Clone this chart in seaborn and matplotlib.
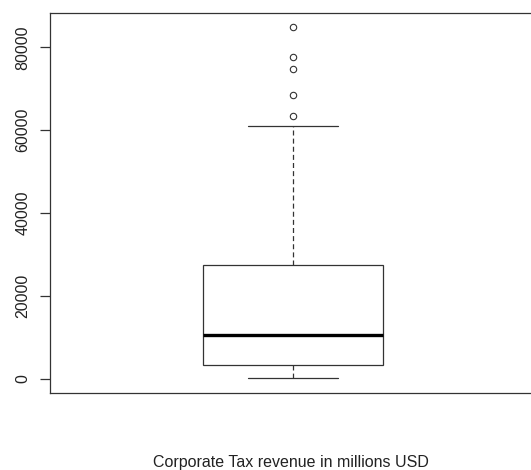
import matplotlib
matplotlib.use("Agg")
import matplotlib.pyplot as plt
import seaborn as sns
import pandas as pd

# corporate tax revenue, millions USD (values picked to reproduce the box summary)
revenue = [
    40, 350, 700, 1050, 1400, 1800, 2200, 2500, 2900, 3200,
    3900, 4700, 5500, 6300, 7200, 8100, 8900, 9700, 10500,
    11900, 13400, 15200, 17300, 19500, 21800, 23600, 25500, 27400,
    32900, 39800, 48600, 61000,
    63500, 68500, 74700, 77700, 85000,
]
y_ticks = [0, 20000, 40000, 60000, 80000]
x_label = "Corporate Tax revenue in millions USD"

sns.set_style("white")
plt.rcParams["font.family"] = ["Liberation Sans", "DejaVu Sans"]

df = pd.DataFrame({"revenue": revenue})

fig = plt.figure(figsize=(5.31, 4.70), dpi=100)
ax = fig.add_axes([50 / 531, 77.3 / 470, 486 / 531, 380 / 470])

line_col = "#333333"
sns.boxplot(
    data=df, y="revenue", ax=ax, whis=1.4, width=0.37,
    color="white", linecolor=line_col, linewidth=0.9,
    boxprops=dict(facecolor="white", edgecolor=line_col, linewidth=0.9),
    medianprops=dict(color="black", linewidth=2.4),
    whiskerprops=dict(color=line_col, linewidth=0.9, linestyle=(0, (4, 2.5))),
    capprops=dict(color=line_col, linewidth=0.9),
    flierprops=dict(marker="o", markerfacecolor="none", markeredgecolor=line_col,
                    markersize=4.6, markeredgewidth=0.8),
)

ax.set_xlim(-0.5, 0.5)
ax.set_ylim(-3400, 88400)
ax.set_yticks(y_ticks)
ax.set_yticklabels([str(t) for t in y_ticks], rotation=90, va="center",
                   fontsize=11.5, color="#222222")
ax.set_xticks([])
ax.set_ylabel("")
ax.set_xlabel("")
ax.tick_params(axis="y", left=True, length=7, width=0.9, color=line_col, pad=7)

for side in ["left", "right", "top", "bottom"]:
    ax.spines[side].set_visible(True)
    ax.spines[side].set_color("#333333")
    ax.spines[side].set_linewidth(0.9)

fig.text(291 / 531, 1 - 462 / 470, x_label, ha="center", va="center",
         fontsize=11.5, color="#222222")

fig.savefig("out.png", dpi=100)
